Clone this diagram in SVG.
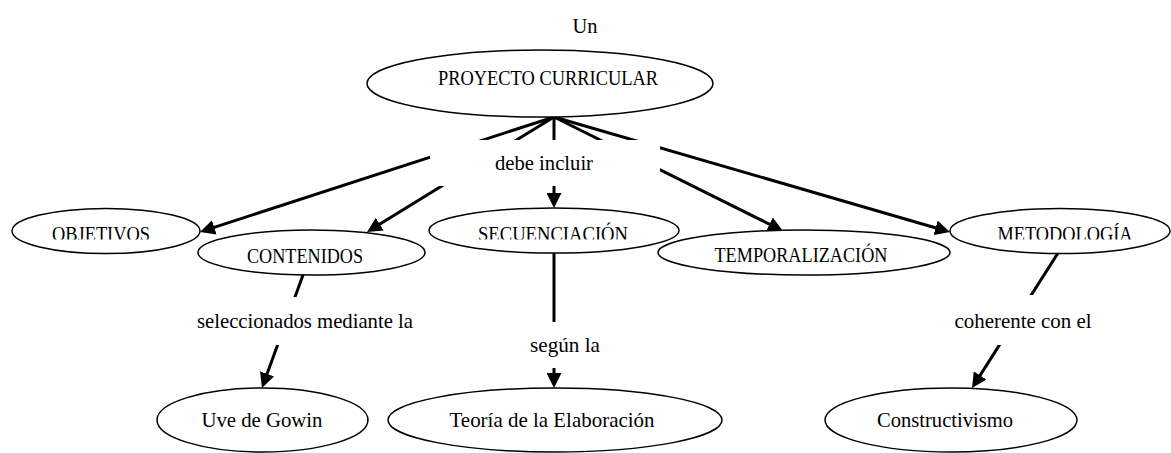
<svg xmlns="http://www.w3.org/2000/svg" width="1171" height="453" viewBox="0 0 1171 453">
<style>
text{font-family:'Liberation Serif','Times New Roman',serif;fill:#000;text-anchor:middle}
.n{font-size:20px}
.l{font-size:21px}
ellipse{fill:#fff;stroke:#000;stroke-width:1.5}
.c line{stroke:#000;stroke-width:3;marker-end:url(#ah)}
.bg{fill:#fff;stroke:none}
</style>
<defs>
<marker id="ah" markerUnits="userSpaceOnUse" markerWidth="15" markerHeight="15" refX="5" refY="7.5" orient="auto" viewBox="0 0 15 15">
<path d="M0,0 L15,7.5 L0,15 Z" fill="#000"/>
</marker>
<clipPath id="cut"><rect x="0" y="0" width="1171" height="239.5"/></clipPath>
</defs>
<rect width="1171" height="453" fill="#fff"/>
<g id="connectors" class="c">
<line x1="554" y1="117" x2="209.5" y2="228.9"/>
<line x1="554" y1="117" x2="375.5" y2="226.8"/>
<line x1="554" y1="117" x2="554" y2="198"/>
<line x1="554" y1="117" x2="774" y2="226.5"/>
<line x1="554" y1="117" x2="940.4" y2="229.2"/>
<line x1="303" y1="275" x2="265.4" y2="378.6"/>
<line x1="554" y1="253" x2="554" y2="378"/>
<line x1="1058" y1="253" x2="977.4" y2="379.6"/>
</g>
<g id="label-un"><text class="n" x="585" y="33" textLength="25" lengthAdjust="spacingAndGlyphs">Un</text></g>
<g id="label-debe-incluir"><rect class="bg" x="430" y="140" width="230" height="46"/><text class="n" x="544" y="170" textLength="98" lengthAdjust="spacingAndGlyphs">debe incluir</text></g>
<g id="label-seleccionados"><rect class="bg" x="190" y="297" width="230" height="48"/><text class="l" x="305" y="328" textLength="216" lengthAdjust="spacingAndGlyphs">seleccionados mediante la</text></g>
<g id="label-segun"><rect class="bg" x="500" y="322" width="110" height="46"/><text class="l" x="565" y="352" textLength="70" lengthAdjust="spacingAndGlyphs">según la</text></g>
<g id="label-coherente"><rect class="bg" x="945" y="295" width="160" height="50"/><text class="l" x="1023" y="328" textLength="137" lengthAdjust="spacingAndGlyphs">coherente con el</text></g>
<g id="node-proyecto"><ellipse cx="540" cy="83.5" rx="173" ry="33.5"/><text class="n" x="548" y="85" textLength="220" lengthAdjust="spacingAndGlyphs">PROYECTO CURRICULAR</text></g>
<g id="node-objetivos"><ellipse cx="106" cy="231" rx="94" ry="22.5"/><text class="n" x="101" y="241" textLength="98" lengthAdjust="spacingAndGlyphs" clip-path="url(#cut)">OBJETIVOS</text></g>
<g id="node-contenidos"><ellipse cx="311.5" cy="252.5" rx="113.5" ry="22.5"/><text class="n" x="305" y="263" textLength="116" lengthAdjust="spacingAndGlyphs">CONTENIDOS</text></g>
<g id="node-secuenciacion"><ellipse cx="554" cy="230.5" rx="125" ry="22.5"/><text class="n" x="553" y="241" textLength="150" lengthAdjust="spacingAndGlyphs" clip-path="url(#cut)">SECUENCIACIÓN</text></g>
<g id="node-temporalizacion"><ellipse cx="804" cy="252.5" rx="146" ry="22.5"/><text class="n" x="801" y="262" textLength="173" lengthAdjust="spacingAndGlyphs">TEMPORALIZACIÓN</text></g>
<g id="node-metodologia"><ellipse cx="1060" cy="231" rx="110" ry="22.5"/><text class="n" x="1065" y="241" textLength="135" lengthAdjust="spacingAndGlyphs" clip-path="url(#cut)">METODOLOGÍA</text></g>
<g id="node-uve"><ellipse cx="262.5" cy="420" rx="105.5" ry="32"/><text class="l" x="262" y="427" textLength="121" lengthAdjust="spacingAndGlyphs">Uve de Gowin</text></g>
<g id="node-teoria"><ellipse cx="555" cy="420" rx="167" ry="32"/><text class="l" x="552" y="427" textLength="205" lengthAdjust="spacingAndGlyphs">Teoría de la Elaboración</text></g>
<g id="node-constructivismo"><ellipse cx="951" cy="420" rx="126" ry="32"/><text class="l" x="945" y="427" textLength="136" lengthAdjust="spacingAndGlyphs">Constructivismo</text></g>
</svg>
